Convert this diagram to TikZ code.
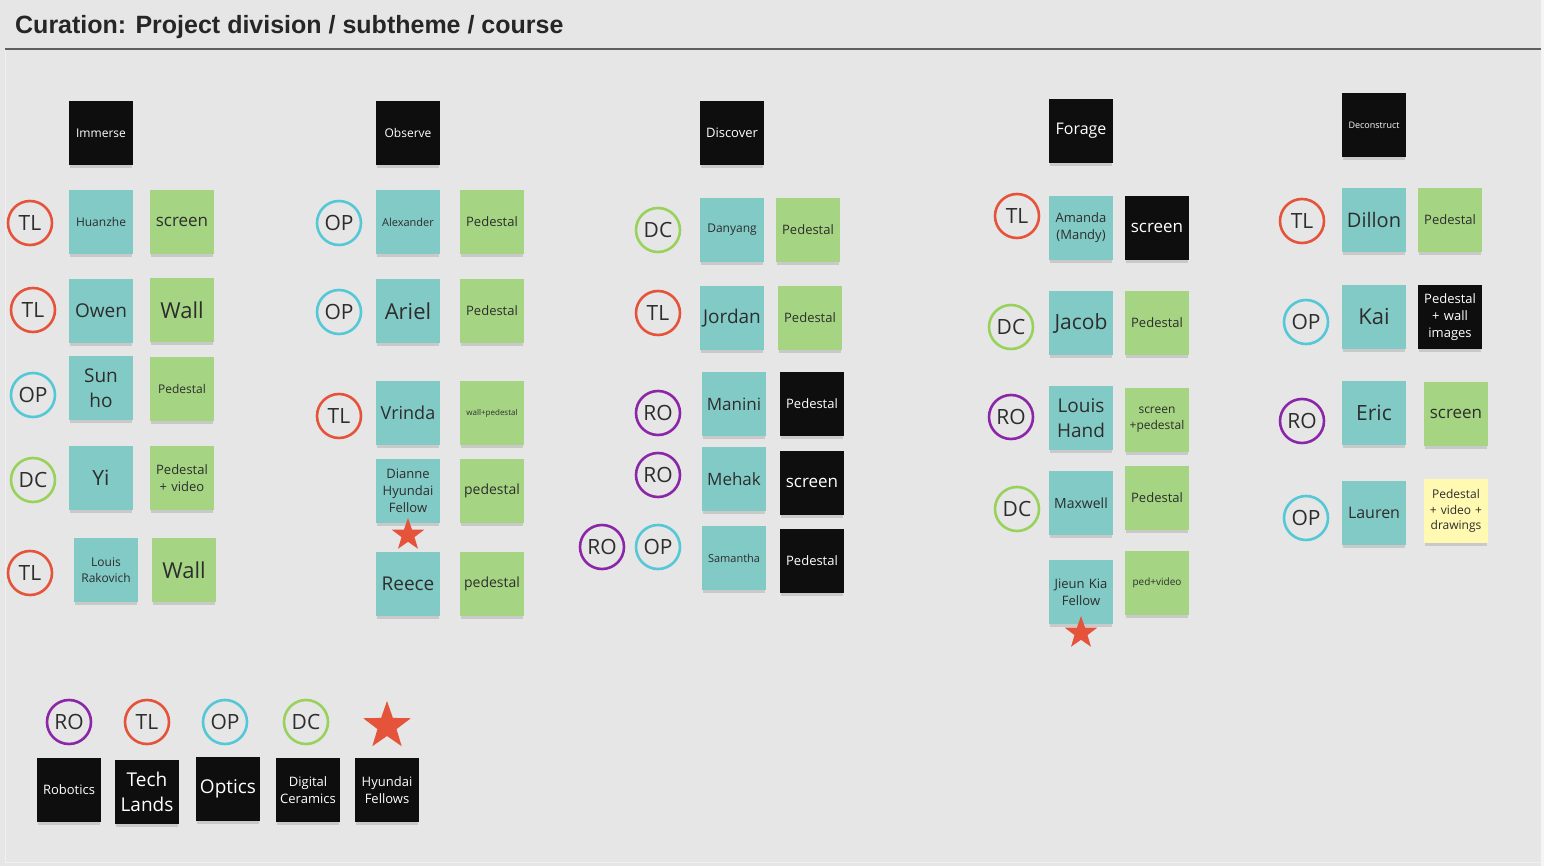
\documentclass[tikz,border=0pt]{standalone}
\usepackage{fontspec}
\setmainfont{Open Sans}
\newfontfamily\titlefont{Liberation Sans}
\usetikzlibrary{shapes.geometric,shadows}
\definecolor{bgc}{RGB}{230,230,230}
\definecolor{tealc}{RGB}{130,202,198}
\definecolor{greenc}{RGB}{165,213,131}
\definecolor{yellowc}{RGB}{255,249,177}
\definecolor{blackc}{RGB}{14,14,14}
\definecolor{txtc}{RGB}{45,45,45}
\definecolor{redc}{RGB}{229,83,58}
\definecolor{purc}{RGB}{140,38,168}
\definecolor{cyanc}{RGB}{84,200,214}
\definecolor{dcc}{RGB}{152,210,92}
\newcommand\fsz[1]{\fontsize{#1pt}{\fpeval{1.32*#1}pt}\selectfont}
\tikzset{
  sticky/.style={rectangle, minimum width=64pt, minimum height=64pt, inner sep=0pt,
    text width=60pt, align=center,
    drop shadow={shadow xshift=0pt, shadow yshift=-4pt, opacity=0.28, shadow scale=0.96}},
  fs/.style={font=\fsz{#1}},
  tn/.style={sticky, fill=tealc, text=txtc},
  gn/.style={sticky, fill=greenc, text=txtc},
  yn/.style={sticky, fill=yellowc, text=txtc},
  bn/.style={sticky, fill=blackc, text=white},
  badge/.style={circle, draw, line width=2.6pt, fill=bgc, minimum size=44pt, inner sep=0pt,
    text=txtc, font=\fsz{21}},
  tlc/.style={badge, draw=redc},
  roc/.style={badge, draw=purc},
  opc/.style={badge, draw=cyanc},
  dcc/.style={badge, draw=dcc},
  fstar/.style={star, star points=5, star point ratio=2.5, fill=redc, inner sep=0pt},
}
\begin{document}
\begin{tikzpicture}[x=1pt,y=-1pt]
\useasboundingbox (0,0) rectangle (1544,866);
\fill[bgc] (0,0) rectangle (1544,866);
\fill[white!60!bgc] (1541,0) rectangle (1544,866);
\draw[white!40!bgc, line width=1pt] (5,49) -- (5,862) -- (1541,862);
\draw[gray!75!black, line width=1.3pt] (5,49) -- (1541,49);
\node[anchor=base west, inner sep=0pt, font=\titlefont\bfseries\fontsize{25}{30}\selectfont, text=black!85] (title) at (15,34) {Curation: Project division / subtheme / course};

% ---------- column 1
\node[bn, fs=12] (immerse) at (101,133) {Immerse};
\node[tlc] (c1a) at (30,223) {TL};
\node[tn, fs=12] (huanzhe) at (101,222) {Huanzhe};
\node[gn, fs=17] (g1a) at (182,222) {screen};
\node[tlc] (c1b) at (33,310) {TL};
\node[tn, fs=19] (owen) at (101,311) {Owen};
\node[gn, fs=22] (g1b) at (182,310) {Wall};
\node[opc] (c1c) at (33,395) {OP};
\node[tn, fs=19] (sunho) at (101,388) {Sun\\ho};
\node[gn, fs=12] (g1c) at (182,389) {Pedestal};
\node[dcc] (c1d) at (33,480) {DC};
\node[tn, fs=21] (yi) at (101,478) {Yi};
\node[gn, fs=13] (g1d) at (182,478) {Pedestal\\+ video};
\node[tlc] (c1e) at (30,573) {TL};
\node[tn, fs=12] (rakovich) at (106,570) {Louis\\Rakovich};
\node[gn, fs=22] (g1e) at (184,570) {Wall};

% ---------- column 2
\node[bn, fs=12] (observe) at (408,133) {Observe};
\node[opc] (c2a) at (339,223) {OP};
\node[tn, fs=11] (alexander) at (408,222) {Alexander};
\node[gn, fs=13] (g2a) at (492,222) {Pedestal};
\node[opc] (c2b) at (339,312) {OP};
\node[tn, fs=22] (ariel) at (408,311) {Ariel};
\node[gn, fs=13] (g2b) at (492,311) {Pedestal};
\node[tlc] (c2c) at (339,416) {TL};
\node[tn, fs=18] (vrinda) at (408,413) {Vrinda};
\node[gn, fs=8] (g2c) at (492,413) {wall+pedestal};
\node[tn, fs=13] (dianne) at (408,491) {Dianne\\Hyundai\\Fellow};
\node[fstar, minimum size=34pt] (star1) at (408,535) {};
\node[gn, fs=14] (g2d) at (492,491) {pedestal};
\node[tn, fs=19] (reece) at (408,584) {Reece};
\node[gn, fs=14] (g2e) at (492,584) {pedestal};

% ---------- column 3
\node[bn, fs=13] (discover) at (732,133) {Discover};
\node[dcc] (c3a) at (658,230) {DC};
\node[tn, fs=12] (danyang) at (732,230) {Danyang};
\node[gn, fs=13] (g3a) at (808,230) {Pedestal};
\node[tlc] (c3b) at (658,313) {TL};
\node[tn, fs=19] (jordan) at (732,318) {Jordan};
\node[gn, fs=13] (g3b) at (810,318) {Pedestal};
\node[roc] (c3c) at (658,413) {RO};
\node[tn, fs=17] (manini) at (734,404) {Manini};
\node[bn, fs=13] (b3c) at (812,404) {Pedestal};
\node[roc] (c3d) at (658,475) {RO};
\node[tn, fs=17] (mehak) at (734,479) {Mehak};
\node[bn, fs=17] (b3d) at (812,483) {screen};
\node[roc] (c3e) at (602,547) {RO};
\node[opc] (c3f) at (658,547) {OP};
\node[tn, fs=11] (samantha) at (734,558) {Samantha};
\node[bn, fs=13] (b3e) at (812,561) {Pedestal};

% ---------- column 4
\node[bn, fs=16] (forage) at (1081,131) {Forage};
\node[tlc] (c4a) at (1017,216) {TL};
\node[tn, fs=13] (amanda) at (1081,228) {Amanda\\(Mandy)};
\node[bn, fs=17] (b4a) at (1157,228) {screen};
\node[dcc] (c4b) at (1011,327) {DC};
\node[tn, fs=21] (jacob) at (1081,323) {Jacob};
\node[gn, fs=13] (g4b) at (1157,323) {Pedestal};
\node[roc] (c4c) at (1011,417) {RO};
\node[tn, fs=19] (louishand) at (1081,418) {Louis\\Hand};
\node[gn, fs=12] (g4c) at (1157,420) {screen\\+pedestal};
\node[dcc] (c4d) at (1017,509) {DC};
\node[tn, fs=14] (maxwell) at (1081,503) {Maxwell};
\node[gn, fs=13] (g4d) at (1157,498) {Pedestal};
\node[tn, fs=13] (jieun) at (1081,592) {Jieun Kia\\Fellow};
\node[fstar, minimum size=34pt] (star2) at (1081,633) {};
\node[gn, fs=10] (g4e) at (1157,583) {ped+video};

% ---------- column 5
\node[bn, fs=9] (deconstruct) at (1374,125) {Deconstruct};
\node[tlc] (c5a) at (1302,221) {TL};
\node[tn, fs=20] (dillon) at (1374,220) {Dillon};
\node[gn, fs=13] (g5a) at (1450,220) {Pedestal};
\node[opc] (c5b) at (1306,322) {OP};
\node[tn, fs=22] (kai) at (1374,317) {Kai};
\node[bn, fs=13] (b5b) at (1450,317) {Pedestal\\+ wall\\images};
\node[roc] (c5c) at (1302,421) {RO};
\node[tn, fs=21] (eric) at (1374,413) {Eric};
\node[gn, fs=17] (g5c) at (1456,414) {screen};
\node[opc] (c5d) at (1306,518) {OP};
\node[tn, fs=16] (lauren) at (1374,513) {Lauren};
\node[yn, fs=12] (y5d) at (1456,511) {Pedestal\\+ video +\\drawings};

% ---------- legend
\node[roc] (lro) at (69,722) {RO};
\node[tlc] (ltl) at (147,722) {TL};
\node[opc] (lop) at (225,722) {OP};
\node[dcc] (ldc) at (306,722) {DC};
\node[fstar, minimum size=50pt] (lstar) at (387,726) {};
\node[bn, fs=13] (robotics) at (69,790) {Robotics};
\node[bn, fs=19] (techlands) at (147,792) {Tech\\Lands};
\node[bn, fs=19] (optics) at (228,789) {Optics};
\node[bn, fs=13] (digital) at (308,790) {Digital\\Ceramics};
\node[bn, fs=13] (hyundai) at (387,790) {Hyundai\\Fellows};
\end{tikzpicture}
\end{document}
